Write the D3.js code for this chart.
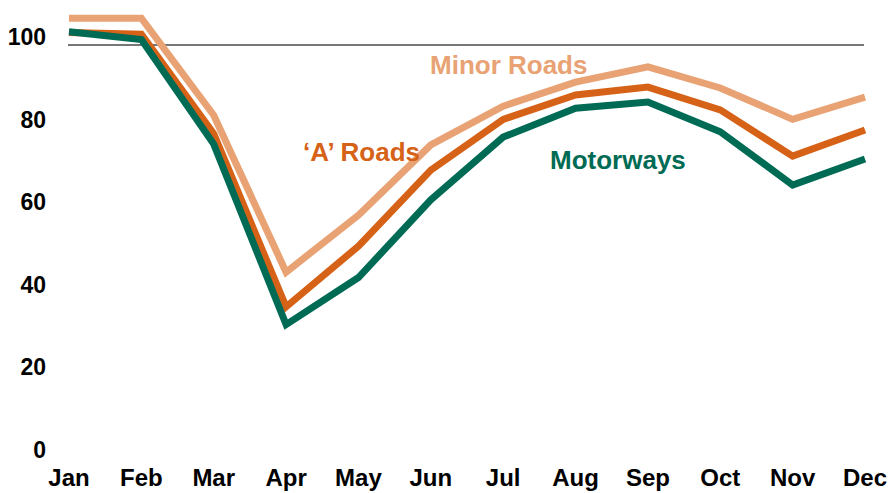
<!DOCTYPE html>
<html>
<head>
<meta charset="utf-8">
<script src="https://cdn.jsdelivr.net/npm/d3@7"></script>
<style>
  body { margin: 0; background: #fff; }
  svg text { font-family: "Liberation Sans", Arial, sans-serif; font-weight: bold; }
</style>
</head>
<body>
<script>
var months = ["Jan", "Feb", "Mar", "Apr", "May", "Jun", "Jul", "Aug", "Sep", "Oct", "Nov", "Dec"];
var minorRoads = [106.5, 106.5, 83, 45, 58.8, 75.8, 85.2, 91, 94.7, 89.6, 82, 87.4];
var aRoads = [103, 102.6, 78.5, 36.6, 51.3, 69.7, 82, 87.9, 89.8, 84.3, 73.1, 79.4];
var motorways = [103.2, 101.3, 76, 32.3, 43.7, 62.5, 77.7, 84.7, 86.2, 79, 66.1, 72.4];
var yTicks = [0, 20, 40, 60, 80, 100];

var series = [
    { name: "Minor Roads", values: minorRoads, color: "#E8A274", lx: 430, ly: 74 },
    { name: "\u2018A\u2019 Roads", values: aRoads, color: "#D66218", lx: 303, ly: 161 },
    { name: "Motorways", values: motorways, color: "#006B54", lx: 550, ly: 169 }
];

var svg = d3.select("body").append("svg")
    .attr("width", 893)
    .attr("height", 493);

var x = d3.scalePoint().domain(months).range([69, 865]);
var y = d3.scaleLinear().domain([0, 100]).range([458, 45]);

// reference line at 100
svg.append("line")
    .attr("x1", 68).attr("x2", 864)
    .attr("y1", y(100)).attr("y2", y(100))
    .attr("stroke", "#777").attr("stroke-width", 2);

// y labels
svg.selectAll(".ylab")
    .data(yTicks)
    .enter().append("text")
    .attr("x", 46)
    .attr("y", function(d) { return y(d) - 8; })
    .attr("dy", "0.35em")
    .attr("text-anchor", "end")
    .attr("font-size", 23)
    .attr("fill", "#000")
    .text(function(d) { return d; });

// x labels
svg.selectAll(".xlab")
    .data(months)
    .enter().append("text")
    .attr("x", function(d) { return x(d); })
    .attr("y", 478)
    .attr("dy", "0.35em")
    .attr("text-anchor", "middle")
    .attr("font-size", 24)
    .attr("fill", "#000")
    .text(function(d) { return d; });

var line = d3.line()
    .x(function(d, i) { return x(months[i]); })
    .y(function(d) { return y(d); });

svg.selectAll(".series")
    .data(series)
    .enter().append("path")
    .attr("d", function(d) { return line(d.values); })
    .attr("fill", "none")
    .attr("stroke", function(d) { return d.color; })
    .attr("stroke-width", 7)
    .attr("stroke-linejoin", "miter");

svg.selectAll(".slab")
    .data(series)
    .enter().append("text")
    .attr("x", function(d) { return d.lx; })
    .attr("y", function(d) { return d.ly; })
    .attr("font-size", 26)
    .attr("fill", function(d) { return d.color; })
    .text(function(d) { return d.name; });
</script>
</body>
</html>
